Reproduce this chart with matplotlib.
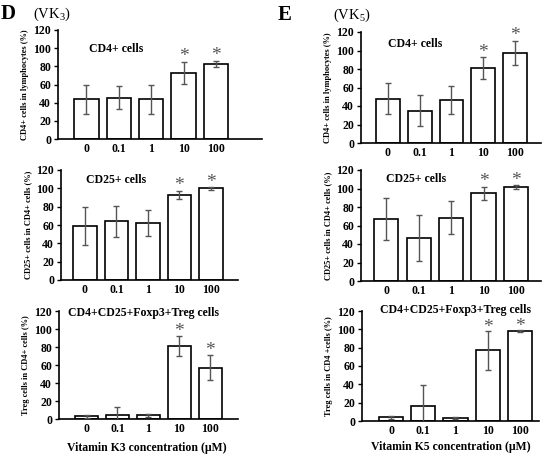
import matplotlib
matplotlib.use("Agg")
import matplotlib.pyplot as plt

plt.rcParams['font.family'] = ['Liberation Serif', 'DejaVu Serif']
plt.rcParams['mathtext.fontset'] = 'custom'
plt.rcParams['mathtext.rm'] = 'Liberation Serif'

concentrations = ["0", "0.1", "1", "10", "100"]

# Vitamin K3 (panel D)
vk3_cd4 = [44, 45.5, 44, 73, 83]
vk3_cd4_err = [16, 12.5, 16, 12, 3.3]
vk3_cd25 = [59, 64, 62, 93, 100]
vk3_cd25_err = [21, 17, 14, 4.5, 1.5]
vk3_treg = [3, 4, 4, 81, 57]
vk3_treg_err = [1.5, 9, 1.5, 11, 14]

# Vitamin K5 (panel E)
vk5_cd4 = [48, 35, 46.5, 81, 97.5]
vk5_cd4_err = [17, 17, 15, 11.5, 13]
vk5_cd25 = [67, 46.5, 68.5, 95, 101.5]
vk5_cd25_err = [23, 24.5, 17.5, 7, 2]
vk5_treg = [4, 16.5, 3.3, 77, 98]
vk5_treg_err = [1.5, 23, 1, 21.5, 1.3]

sig_flags = [False, False, False, True, True]

W, H = 553, 468
fig = plt.figure(figsize=(W / 100, H / 100), dpi=100)


def px_axes(left, right, top, bottom):
    return fig.add_axes([left / W, 1 - bottom / H, (right - left) / W, (bottom - top) / H])


def panel(box, xlim, vals, errs, title, title_xy, ylabel, star_off=3.5):
    ax = px_axes(*box)
    x = list(range(len(concentrations)))
    ax.bar(x, vals, width=0.75, color='white', edgecolor='black', linewidth=1.2, zorder=2)
    ax.errorbar(x, vals, yerr=errs, fmt='none', ecolor='#555555', elinewidth=1.0,
                capsize=2.5, capthick=1.0, zorder=3)
    for xi, v, e, s in zip(x, vals, errs, sig_flags):
        if s:
            ax.annotate('*', xy=(xi, v + e), xytext=(0, star_off), textcoords='offset points',
                        ha='center', va='center', fontsize=14, color='#555555',
                        annotation_clip=False)
    ax.set_xlim(*xlim)
    ax.set_ylim(0, 120)
    ax.set_yticks(range(0, 121, 20))
    ax.set_xticks(x)
    ax.set_xticklabels(concentrations)
    for sp in ['top', 'right']:
        ax.spines[sp].set_visible(False)
    for sp in ['left', 'bottom']:
        ax.spines[sp].set_linewidth(1.2)
    ax.tick_params(axis='y', direction='out', length=3, width=1, labelsize=8.5, pad=2)
    ax.tick_params(axis='x', length=0, labelsize=8.5, pad=3)
    for lab in ax.get_xticklabels() + ax.get_yticklabels():
        lab.set_fontweight('bold')
    fig.text(title_xy[0] / W, 1 - title_xy[1] / H, title, ha='center', va='center',
             fontsize=8.5, fontweight='bold')
    ax.set_ylabel(ylabel, fontsize=6, fontweight='bold', labelpad=3)
    return ax


# Panel D
panel((58, 262, 30, 139), (-0.88, 5.42), vk3_cd4, vk3_cd4_err, 'CD4+ cells', (116, 49),
      'CD4+ cells in lymphocytes (%)')
panel((61, 238, 170, 280), (-0.76, 4.86), vk3_cd25, vk3_cd25_err, 'CD25+ cells', (116, 180),
      'CD25+ cells in CD4+ cells (%)')
panel((59, 238, 311, 419), (-0.89, 4.9), vk3_treg, vk3_treg_err, 'CD4+CD25+Foxp3+Treg cells',
      (144, 313), 'Treg cells in CD4+ cells (%)')

# Panel E
panel((361, 541, 32, 143), (-0.85, 4.82), vk5_cd4, vk5_cd4_err, 'CD4+ cells', (415, 44),
      'CD4+ cells in lymphocytes (%)')
panel((361, 541, 170, 281), (-0.78, 4.77), vk5_cd25, vk5_cd25_err, 'CD25+ cells', (416, 179),
      'CD25+ cells in CD4+ cells (%)')
panel((362, 539, 311, 421), (-0.91, 4.6), vk5_treg, vk5_treg_err, 'CD4+CD25+Foxp3+Treg cells',
      (455, 310), 'Treg cells in CD4 +cells (%)', star_off=2.5)

# Panel letters and headers
fig.text(1 / W, 1 - 14 / H, 'D', fontsize=15, fontweight='bold', ha='left', va='center')
fig.text(33 / W, 1 - 14 / H, r'(VK$_3$)', fontsize=10.5, ha='left', va='center')
fig.text(278 / W, 1 - 15 / H, 'E', fontsize=15, fontweight='bold', ha='left', va='center')
fig.text(333 / W, 1 - 15 / H, r'(VK$_5$)', fontsize=10.5, ha='left', va='center')

# X labels
fig.text(147 / W, 1 - 448 / H, 'Vitamin K3 concentration (\u03bcM)', fontsize=8.5,
         fontweight='bold', ha='center', va='center')
fig.text(451 / W, 1 - 447 / H, 'Vitamin K5 concentration (\u03bcM)', fontsize=8.5,
         fontweight='bold', ha='center', va='center')

fig.savefig('out.png', dpi=100)
